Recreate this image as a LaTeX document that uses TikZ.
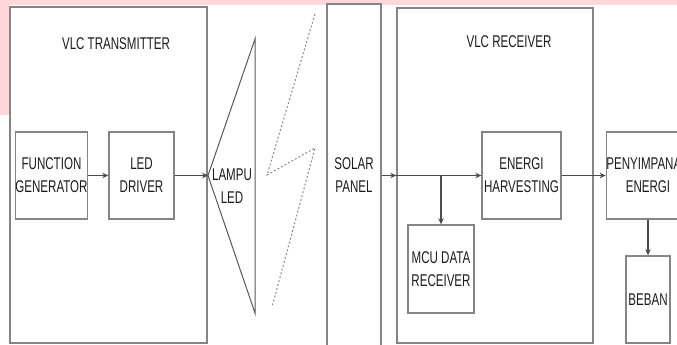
\documentclass[tikz,border=0pt]{standalone}
\usepackage{fontspec}
\setmainfont{Liberation Sans}[FakeStretch=0.68]
\usepackage{xcolor}
\usetikzlibrary{arrows.meta,positioning}
\definecolor{pagepink}{HTML}{FFD8DC}
\definecolor{boxgray}{HTML}{858585}
\definecolor{txtgray}{HTML}{1C1C1C}

\begin{document}
\begin{tikzpicture}[x=1pt,y=-1pt,
  every node/.style={font=\fontsize{17}{23}\selectfont,text=txtgray,align=center},
  box/.style={draw=boxgray,line width=1.4pt,inner sep=0pt},
  arr/.style={draw=black!70,line width=1.1pt,-{Stealth[length=6pt,width=5.5pt]}},
  lampline/.style={draw=black!65,line width=1pt},
  beam/.style={draw=black!45,dash pattern=on 2pt off 2pt,line width=1pt}
]
  \clip (0,0) rectangle (677,345);
  \fill[white] (0,0) rectangle (677,345);
  \fill[pagepink] (0,0) rectangle (677,5);
  \fill[pagepink] (0,0) rectangle (10,115);

  % transmitter side
  \node[box,minimum width=197pt,minimum height=336pt] (tx) at (108.5,175) {};
  \node (txlbl) at (116,44) {VLC TRANSMITTER};
  \node[box,minimum width=71pt,minimum height=87pt] (fg) at (51.5,175.5) {FUNCTION\\GENERATOR};
  \node[box,minimum width=65pt,minimum height=87pt] (drv) at (141.5,175.5) {LED\\DRIVER};

  % lamp
  \coordinate (lampin) at (208,175.5);
  \coordinate (lamptop) at (255,39);
  \coordinate (lampbot) at (255,313);
  \draw[lampline] (lampin) -- (lamptop) -- (lampbot) -- cycle;
  \node (lamplbl) at (232,186) {LAMPU\\LED};

  % light beam
  \draw[beam] (315,14) -- (267,175) -- (315,148) -- (272,307);

  % receiver side
  \node[box,minimum width=54pt,minimum height=343pt] (solar) at (354,175.5) {SOLAR\\PANEL};
  \node[box,minimum width=196pt,minimum height=335pt] (rx) at (495,175.5) {};
  \node (rxlbl) at (509,42) {VLC RECEIVER};
  \node[box,minimum width=79pt,minimum height=87pt] (eh) at (521.5,175.5) {ENERGI\\HARVESTING};
  \node[box,minimum width=66pt,minimum height=88pt] (mcu) at (441,269) {MCU DATA\\RECEIVER};
  \node[box,minimum width=66pt,minimum height=87pt] (pen) at (648,175.5) {PENYIMPANAN\\ENERGI};
  \node[box,minimum width=44pt,minimum height=87pt] (beban) at (648,299.5) {BEBAN};

  \coordinate (rxin) at (solar.east -| rx.west);
  \coordinate (tap) at (mcu.north |- eh.west);

  \draw[arr] (fg) -- (drv);
  \draw[arr] (drv) -- (lampin);
  \draw[arr] (solar.east) -- (rxin);
  \draw[arr] (rxin) -- (eh.west);
  \draw[arr] (tap) -- (mcu.north);
  \draw[arr] (eh) -- (pen);
  \draw[arr] (pen) -- (beban);
\end{tikzpicture}
\end{document}
